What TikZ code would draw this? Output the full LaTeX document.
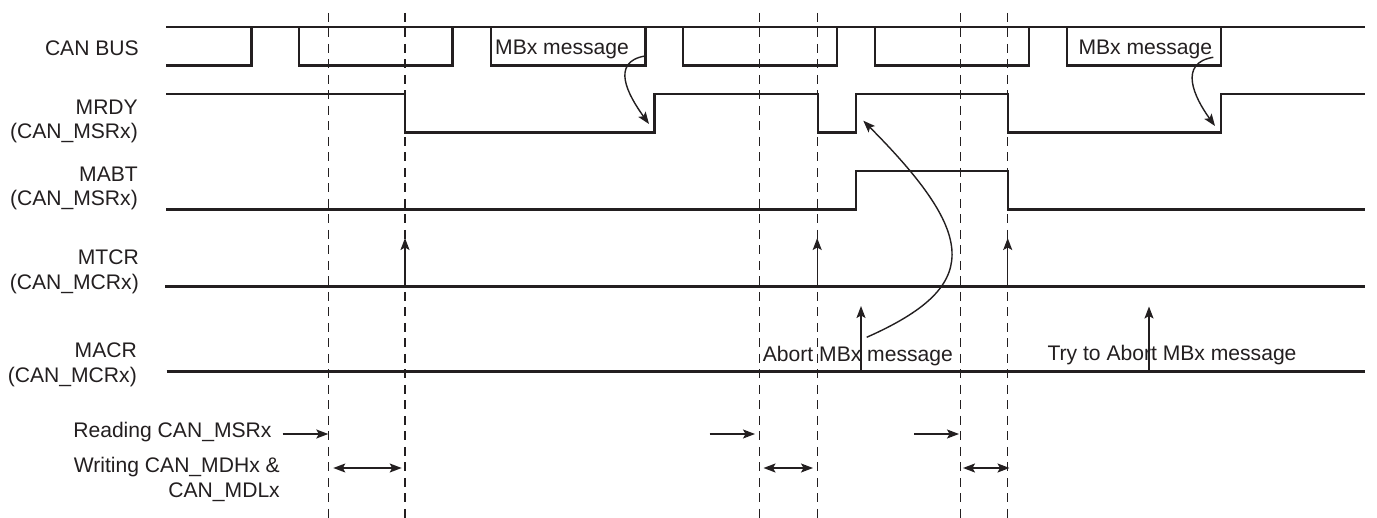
\documentclass[tikz,border=0pt]{standalone}
\usepackage{fontspec}
\setmainfont{Liberation Sans}
\usetikzlibrary{arrows.meta}
\definecolor{ink}{RGB}{35,31,32}
\begin{document}
\begin{tikzpicture}[x=1pt,y=-1pt,
  sig/.style={draw=ink, line width=2.4pt, line join=miter},
  guide/.style={draw=ink, line width=1.1pt, dash pattern=on 9pt off 6.5pt},
  ptr/.style={draw=ink, line width=1.4pt, -{Stealth[length=12pt,width=9pt,inset=2.5pt]}},
  dbl/.style={draw=ink, line width=1.4pt, {Stealth[length=12pt,width=9pt,inset=2.5pt]}-{Stealth[length=12pt,width=9pt,inset=2.5pt]}},
  lbl/.style={text=ink, font=\fontsize{21.1}{24.5}\selectfont, inner sep=0pt, align=right},
  txt/.style={text=ink, font=\fontsize{21.1}{24.5}\selectfont, inner sep=0pt}]
\useasboundingbox (0,0) rectangle (1377,518);
\fill[white] (0,0) rectangle (1377,518);

% guide lines
\foreach \gx in {328.5,405,759.5,817.5,960.5,1007.5}
  \draw[guide] (\gx,13) -- (\gx,518);

% CAN BUS
\draw[sig] (166,27.3) -- (1365,27.3);
\draw[sig] (166,65.5) -- (251.5,65.5) -- (251.5,27.3);
\draw[sig] (299,27.3) -- (299,65.5) -- (452.5,65.5) -- (452.5,27.3);
\draw[sig] (491,27.3) -- (491,65.5) -- (645.3,65.5) -- (645.3,27.3);
\draw[sig] (683,27.3) -- (683,65.5) -- (837,65.5) -- (837,27.3);
\draw[sig] (875,27.3) -- (875,65.5) -- (1029,65.5) -- (1029,27.3);
\draw[sig] (1066.7,27.3) -- (1066.7,65.5) -- (1221,65.5) -- (1221,27.3);

% MRDY
\draw[sig] (166,94.3) -- (405,94.3) -- (405,132.7) -- (654.3,132.7) -- (654.3,94.3)
  -- (817.7,94.3) -- (817.7,132.7) -- (856,132.7) -- (856,94.3) -- (1008,94.3)
  -- (1008,132.7) -- (1221,132.7) -- (1221,94.3) -- (1365,94.3);

% MABT
\draw[sig] (166,209.7) -- (856,209.7) -- (856,171) -- (1008,171) -- (1008,209.7) -- (1365,209.7);

% MTCR, MACR
\draw[sig] (165,286.7) -- (1365,286.7);
\draw[sig] (166.7,371.7) -- (1365,371.7);

% labels
\node[lbl, anchor=base east] (canbus) at (139,56) {CAN BUS};
\node[lbl, anchor=east] (mrdy) at (138,121.5) {MRDY\\(CAN\_MSRx)};
\node[lbl, anchor=east] (mabt) at (138,188.3) {MABT\\(CAN\_MSRx)};
\node[lbl, anchor=east] (mtcr) at (139,271.8) {MTCR\\(CAN\_MCRx)};
\node[lbl, anchor=east] (macr) at (137,364.9) {MACR\\(CAN\_MCRx)};
\node[lbl, anchor=base east] (reading) at (271.7,437.7) {Reading CAN\_MSRx};
\node[lbl, anchor=east] (writing) at (280,479.5) {Writing CAN\_MDHx \&\\CAN\_MDLx};

\node[txt, anchor=base west] (mbx1) at (495,55) {MBx message};
\node[txt, anchor=base west] (mbx2) at (1078.3,55) {MBx message};
\node[txt, anchor=base west] (abort) at (762.7,361.7) {Abort MBx message};
\node[txt, anchor=base west] (tryabort) at (1047.3,360.7) {Try to Abort MBx message};

% curved arrows from MBx message to MRDY rise
\coordinate (m1s) at (645,56);
\coordinate (m1e) at (649,124);
\draw[ptr] (m1s) .. controls (610,62) and (628,95) .. (m1e);
\coordinate (m2s) at (1213.3,57.3);
\coordinate (m2e) at (1215,126);
\draw[ptr] (m2s) .. controls (1178,63) and (1194,97) .. (m2e);

% big curved arrow from abort to MRDY
\coordinate (abs) at (866.7,337.3);
\coordinate (abe) at (863.3,120.7);
\draw[ptr] (abs) .. controls (980,287) and (980,238) .. (abe);

% MTCR arrows
\foreach \ax/\nm in {405/t1,817.2/t2,1007.7/t3}{
  \coordinate (\nm a) at (\ax,286.7);
  \coordinate (\nm b) at (\ax,238);
  \draw[ptr] (\nm a) -- (\nm b);
}
% MACR arrows
\coordinate (c1a) at (861,371.7);
\coordinate (c1b) at (861,306);
\draw[ptr] (c1a) -- (c1b);
\coordinate (c2a) at (1149,371.7);
\coordinate (c2b) at (1149,306.5);
\draw[ptr] (c2a) -- (c2b);

% reading arrows
\coordinate (r1a) at (282.7,434); \coordinate (r1b) at (328.3,434);
\coordinate (r2a) at (709.5,434); \coordinate (r2b) at (755,434);
\coordinate (r3a) at (914,434);   \coordinate (r3b) at (959,434);
\draw[ptr] (r1a) -- (r1b);
\draw[ptr] (r2a) -- (r2b);
\draw[ptr] (r3a) -- (r3b);

% writing double arrows
\coordinate (w1a) at (333.3,468); \coordinate (w1b) at (401.7,468);
\coordinate (w2a) at (763.5,468); \coordinate (w2b) at (813,468);
\coordinate (w3a) at (963,468);   \coordinate (w3b) at (1009.5,468);
\draw[dbl] (w1a) -- (w1b);
\draw[dbl] (w2a) -- (w2b);
\draw[dbl] (w3a) -- (w3b);
\end{tikzpicture}
\end{document}
